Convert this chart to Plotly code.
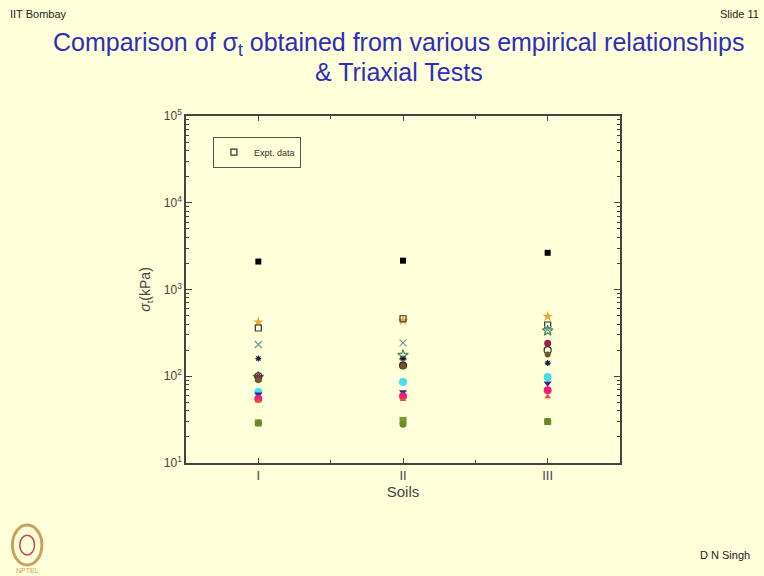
import plotly.graph_objects as go

soils = ["I", "II", "III"]
soil_pos = [1, 2, 3]

series_names = [
    "Empirical 1", "Empirical 2", "Expt. data", "Empirical 3", "Empirical 4",
    "Empirical 5", "Empirical 6", "Empirical 7", "Empirical 8", "Empirical 9",
    "Empirical 10", "Empirical 11", "Empirical 12", "Empirical 13", "Empirical 14",
]
emp_black_sq = [2100, 2150, 2650]
emp_orange_star = [420, 440, 490]
expt_data = [360, 460, 390]
emp_green_star = [98, 175, 335]
emp_x = [232, 242, 345]
emp_asterisk = [160, 160, 142]
emp_maroon = [96, 135, 240]
emp_open_circle = [100, 133, 200]
emp_brown_circle = [90, 130, 178]
emp_cyan = [66, 86, 98]
emp_navy = [62, 66, 83]
emp_magenta = [55, 59, 69]
emp_red = [52, 54, 58]
emp_olive1 = [29, 31, 30]
emp_olive2 = [29, 28, 30]

all_values = [
    emp_black_sq, emp_orange_star, expt_data, emp_green_star, emp_x,
    emp_asterisk, emp_maroon, emp_open_circle, emp_brown_circle, emp_cyan,
    emp_navy, emp_magenta, emp_red, emp_olive1, emp_olive2,
]
styles = [
    dict(symbol="square", color="#000000", size=6),
    dict(symbol="star", color="#E8A838", size=8),
    dict(symbol="square-open", color="#333333", size=6),
    dict(symbol="star-open", color="#4E8A4E", size=8),
    dict(symbol="x-thin-open", color="#6A9A9A", size=7),
    dict(symbol="asterisk-open", color="#1A1A40", size=5),
    dict(symbol="circle", color="#A0204A", size=7),
    dict(symbol="circle-open", color="#3A3020", size=7),
    dict(symbol="circle", color="#6B5A30", size=6),
    dict(symbol="circle", color="#40E0F0", size=8),
    dict(symbol="triangle-down", color="#2A2A9A", size=7),
    dict(symbol="circle", color="#F0207A", size=8),
    dict(symbol="triangle-up", color="#F05030", size=6),
    dict(symbol="square", color="#7A9A2A", size=7),
    dict(symbol="circle", color="#6A8A2A", size=7),
]

bg = "#FFFFDA"
fig = go.Figure()
for name, vals, st in zip(series_names, all_values, styles):
    mk = dict(symbol=st["symbol"], color=st["color"], size=st["size"])
    if "open" in st["symbol"]:
        mk["line"] = dict(color=st["color"], width=1.2)
    fig.add_trace(go.Scatter(
        x=soil_pos, y=vals, mode="markers", name=name, marker=mk,
        showlegend=(name == "Expt. data"),
    ))

fig.update_layout(
    width=764, height=576,
    paper_bgcolor=bg, plot_bgcolor=bg,
    margin=dict(l=186, r=144, t=116, b=113),
    font=dict(family="Liberation Sans, Arial, sans-serif", color="#333333"),
    showlegend=True,
    legend=dict(x=0.062, y=0.896, xanchor="left", yanchor="middle",
                bgcolor=bg, bordercolor="#555555", borderwidth=1,
                font=dict(size=9, color="#333333"), itemsizing="trace",
                itemwidth=30, tracegroupgap=0),
)
fig.update_xaxes(
    range=[0.5, 3.5], tickvals=soil_pos, ticktext=soils,
    ticks="inside", ticklen=5, showline=True, linecolor="#444444", linewidth=1.5,
    mirror="ticks", showgrid=False, zeroline=False,
    minor=dict(tickvals=[1.5, 2.5], ticks="inside", ticklen=3),
    tickfont=dict(size=13, color="#444444"),
    title=dict(text="Soils", font=dict(size=15, color="#444444"), standoff=4),
)
fig.update_yaxes(
    type="log", range=[1, 5],
    tickvals=[10, 100, 1000, 10000, 100000],
    ticktext=["10<sup>1</sup>", "10<sup>2</sup>", "10<sup>3</sup>", "10<sup>4</sup>", "10<sup>5</sup>"],
    ticks="inside", ticklen=6, showline=True, linecolor="#444444", linewidth=1.5,
    mirror="ticks", showgrid=False, zeroline=False,
    minor=dict(ticks="inside", ticklen=3, dtick="D1", showgrid=False),
    tickfont=dict(size=12, color="#444444"),
    title=dict(text="<i>σ</i><sub>t</sub>(kPa)", font=dict(size=14, color="#444444"), standoff=10),
)

title_color = "#2E2EB8"
fig.add_annotation(text="Comparison of σ<sub>t</sub> obtained from various empirical relationships",
                   xref="paper", yref="paper", x=0.49, y=1.2075, xanchor="center", yanchor="middle",
                   showarrow=False, font=dict(size=25, color=title_color))
fig.add_annotation(text="& Triaxial Tests", xref="paper", yref="paper", x=0.49, y=1.127,
                   xanchor="center", yanchor="middle", showarrow=False,
                   font=dict(size=25, color=title_color))
fig.add_annotation(text="IIT Bombay", xref="paper", yref="paper", x=-0.41, y=1.294,
                   xanchor="left", yanchor="middle", showarrow=False,
                   font=dict(size=11, color="#222222"))
fig.add_annotation(text="Slide 11", xref="paper", yref="paper", x=1.325, y=1.294,
                   xanchor="right", yanchor="middle", showarrow=False,
                   font=dict(size=11, color="#222222"))
fig.add_annotation(text="D N Singh", xref="paper", yref="paper", x=1.304, y=-0.265,
                   xanchor="right", yanchor="middle", showarrow=False,
                   font=dict(size=11, color="#222222"))
fig.add_shape(type="circle", xref="paper", yref="paper",
              x0=-0.40, x1=-0.332, y0=-0.294, y1=-0.179,
              line=dict(color="#C8A060", width=3))
fig.add_shape(type="circle", xref="paper", yref="paper",
              x0=-0.383, x1=-0.349, y0=-0.265, y1=-0.208,
              line=dict(color="#D04050", width=1.5))
fig.add_annotation(text="NPTEL", xref="paper", yref="paper", x=-0.366, y=-0.31,
                   xanchor="center", yanchor="middle", showarrow=False,
                   font=dict(size=7, color="#C8A060"))

fig.write_html("out.html", config={"displayModeBar": False},
               post_script="document.body.style.margin='0';document.body.style.background='#FFFFDA';")
